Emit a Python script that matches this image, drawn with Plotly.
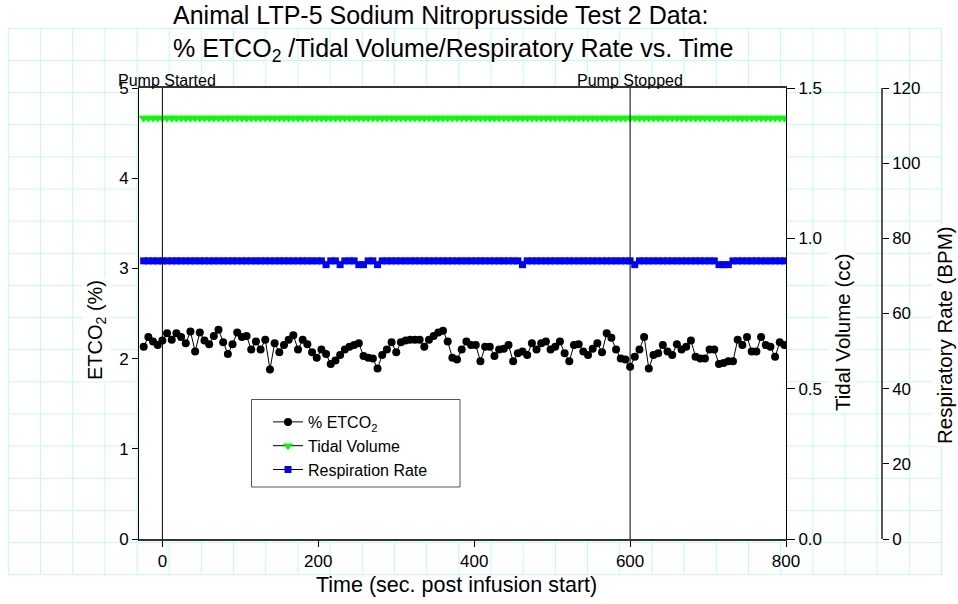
import plotly.graph_objects as go

# ---------------- data ----------------
time_s = [
    -24, -18, -12, -6, 0, 6, 12, 18, 24, 30,
    36, 42, 48, 54, 60, 66, 72, 78, 84, 90,
    96, 102, 108, 114, 120, 126, 132, 138, 144, 150,
    156, 162, 168, 174, 180, 186, 192, 198, 204, 210,
    216, 222, 228, 234, 240, 246, 252, 258, 264, 270,
    276, 282, 288, 294, 300, 306, 312, 318, 324, 330,
    336, 342, 348, 354, 360, 366, 372, 378, 384, 390,
    396, 402, 408, 414, 420, 426, 432, 438, 444, 450,
    456, 462, 468, 474, 480, 486, 492, 498, 504, 510,
    516, 522, 528, 534, 540, 546, 552, 558, 564, 570,
    576, 582, 588, 594, 600, 606, 612, 618, 624, 630,
    636, 642, 648, 654, 660, 666, 672, 678, 684, 690,
    696, 702, 708, 714, 720, 726, 732, 738, 744, 750,
    756, 762, 768, 774, 780, 786, 792, 798,
]

etco2_pct = [
    2.13, 2.24, 2.19, 2.15, 2.20, 2.28, 2.21, 2.28, 2.24, 2.17,
    2.30, 2.08, 2.29, 2.20, 2.16, 2.25, 2.32, 2.18, 2.05, 2.16,
    2.29, 2.24, 2.25, 2.10, 2.19, 2.10, 2.21, 1.88, 2.17, 2.07,
    2.15, 2.21, 2.26, 2.10, 2.21, 2.16, 2.07, 2.01, 2.10, 2.05,
    1.94, 1.98, 2.04, 2.10, 2.13, 2.15, 2.17, 2.03, 2.01, 2.00,
    1.89, 2.04, 2.10, 2.18, 2.07, 2.18, 2.20, 2.21, 2.21, 2.21,
    2.13, 2.21, 2.25, 2.29, 2.31, 2.19, 2.01, 1.99, 2.10, 2.19,
    2.15, 2.15, 1.97, 2.13, 2.13, 2.03, 2.10, 2.11, 2.15, 1.97,
    2.06, 2.08, 2.04, 2.17, 2.10, 2.17, 2.19, 2.10, 2.13, 2.19,
    2.06, 1.97, 2.15, 2.16, 2.08, 2.04, 2.11, 2.17, 2.07, 2.28,
    2.23, 2.10, 2.00, 1.99, 1.91, 2.02, 2.10, 2.24, 1.89, 2.04,
    2.06, 2.15, 2.08, 2.04, 2.16, 2.10, 2.13, 2.20, 2.02, 2.00,
    2.00, 2.10, 2.10, 1.94, 1.95, 1.97, 1.97, 2.21, 2.15, 2.24,
    2.08, 2.08, 2.24, 2.15, 2.13, 2.02, 2.18, 2.15,
]

tidal_volume_cc = [
    1.4, 1.4, 1.4, 1.4, 1.4, 1.4, 1.4, 1.4, 1.4, 1.4,
    1.4, 1.4, 1.4, 1.4, 1.4, 1.4, 1.4, 1.4, 1.4, 1.4,
    1.4, 1.4, 1.4, 1.4, 1.4, 1.4, 1.4, 1.4, 1.4, 1.4,
    1.4, 1.4, 1.4, 1.4, 1.4, 1.4, 1.4, 1.4, 1.4, 1.4,
    1.4, 1.4, 1.4, 1.4, 1.4, 1.4, 1.4, 1.4, 1.4, 1.4,
    1.4, 1.4, 1.4, 1.4, 1.4, 1.4, 1.4, 1.4, 1.4, 1.4,
    1.4, 1.4, 1.4, 1.4, 1.4, 1.4, 1.4, 1.4, 1.4, 1.4,
    1.4, 1.4, 1.4, 1.4, 1.4, 1.4, 1.4, 1.4, 1.4, 1.4,
    1.4, 1.4, 1.4, 1.4, 1.4, 1.4, 1.4, 1.4, 1.4, 1.4,
    1.4, 1.4, 1.4, 1.4, 1.4, 1.4, 1.4, 1.4, 1.4, 1.4,
    1.4, 1.4, 1.4, 1.4, 1.4, 1.4, 1.4, 1.4, 1.4, 1.4,
    1.4, 1.4, 1.4, 1.4, 1.4, 1.4, 1.4, 1.4, 1.4, 1.4,
    1.4, 1.4, 1.4, 1.4, 1.4, 1.4, 1.4, 1.4, 1.4, 1.4,
    1.4, 1.4, 1.4, 1.4, 1.4, 1.4, 1.4, 1.4,
]

resp_rate_bpm = [
    74, 74, 74, 74, 74, 74, 74, 74, 74, 74,
    74, 74, 74, 74, 74, 74, 74, 74, 74, 74,
    74, 74, 74, 74, 74, 74, 74, 74, 74, 74,
    74, 74, 74, 74, 74, 74, 74, 74, 74, 73,
    74, 74, 73, 74, 74, 74, 73, 73, 74, 74,
    73, 74, 74, 74, 74, 74, 74, 74, 74, 74,
    74, 74, 74, 74, 74, 74, 74, 74, 74, 74,
    74, 74, 74, 74, 74, 74, 74, 74, 74, 74,
    74, 73, 74, 74, 74, 74, 74, 74, 74, 74,
    74, 74, 74, 74, 74, 74, 74, 74, 74, 74,
    74, 74, 74, 74, 74, 73, 74, 74, 74, 74,
    74, 74, 74, 74, 74, 74, 74, 74, 74, 74,
    74, 74, 74, 73, 73, 73, 74, 74, 74, 74,
    74, 74, 74, 74, 74, 74, 74, 74,
]

event_times = [0, 600]
event_labels = ["Pump Started", "Pump Stopped"]

x_ticks = [0, 200, 400, 600, 800]
y1_ticks = [0, 1, 2, 3, 4, 5]
y2_ticks = [0.0, 0.5, 1.0, 1.5]
y3_ticks = [0, 20, 40, 60, 80, 100, 120]

# ---------------- layout geometry (pixels) ----------------
W, H = 958, 604
ML, MR, MT, MB = 139, 76, 88, 65
PW = W - ML - MR
PH = H - MT - MB


def px_x(px):
    return (px - ML) / PW


def px_y(py):
    return (H - MB - py) / PH


XDOM_END = px_x(786)
FONT = "Liberation Sans, Arial, Helvetica, sans-serif"

fig = go.Figure()

fig.add_trace(go.Scatter(
    x=time_s, y=etco2_pct, name="% ETCO<sub>2</sub>",
    mode="lines+markers",
    line=dict(color="black", width=1),
    marker=dict(symbol="circle", size=8, color="black"),
    yaxis="y",
))
fig.add_trace(go.Scatter(
    x=time_s, y=tidal_volume_cc, name="Tidal Volume",
    mode="lines+markers",
    line=dict(color="black", width=1),
    marker=dict(symbol="triangle-down", size=9, color="#00ff00", line=dict(width=0)),
    yaxis="y2",
))
fig.add_trace(go.Scatter(
    x=time_s, y=resp_rate_bpm, name="Respiration Rate",
    mode="lines+markers",
    line=dict(color="black", width=1),
    marker=dict(symbol="square", size=7, color="#0000ff", line=dict(width=0)),
    yaxis="y3",
))

shapes = []
# graph-paper background grid
GRID = "#c4f8f8"
gx0, gx1, gy0, gy1 = 8.3, 941.5, 28.3, 574.7
for k in range(30):
    gx = gx0 + 32.18 * k
    shapes.append(dict(type="line", xref="paper", yref="paper", layer="below",
                       x0=px_x(gx), x1=px_x(gx), y0=px_y(gy0), y1=px_y(gy1),
                       line=dict(color=GRID, width=1)))
for j in range(18):
    gy = gy0 + 32.14 * j
    shapes.append(dict(type="line", xref="paper", yref="paper", layer="below",
                       x0=px_x(gx0), x1=px_x(gx1), y0=px_y(gy), y1=px_y(gy),
                       line=dict(color=GRID, width=1)))
# white plotting area
shapes.append(dict(type="rect", xref="paper", yref="paper", layer="below",
                   x0=0, x1=XDOM_END, y0=0, y1=1,
                   fillcolor="white", line=dict(width=0)))
# event lines
for t in event_times:
    shapes.append(dict(type="line", xref="x", yref="paper", x0=t, x1=t, y0=0, y1=1,
                       line=dict(color="black", width=1)))
# legend frame
shapes.append(dict(type="rect", xref="paper", yref="paper", layer="above",
                   x0=px_x(251.5), x1=px_x(460), y0=px_y(487), y1=px_y(399.5),
                   fillcolor="white", line=dict(color="#555555", width=1)))

annotations = [
    dict(text="Animal LTP-5 Sodium Nitroprusside Test 2 Data:<br>% ETCO<sub>2</sub> /Tidal Volume/Respiratory Rate vs. Time",
         xref="paper", yref="paper", x=px_x(171), y=px_y(-1), xanchor="left", yanchor="top",
         align="left", showarrow=False, font=dict(size=25, color="black")),
    dict(text="Time (sec. post infusion start)", xref="paper", yref="paper",
         x=px_x(456), y=px_y(585), xanchor="center", yanchor="middle",
         showarrow=False, font=dict(size=21.5, color="black")),
    dict(text="ETCO<sub>2</sub> (%)", xref="paper", yref="paper", textangle=-90,
         x=px_x(96), y=px_y(330), xanchor="center", yanchor="middle", bgcolor="white",
         showarrow=False, font=dict(size=20, color="black")),
    dict(text="Tidal Volume (cc)", xref="paper", yref="paper", textangle=-90,
         x=px_x(842), y=px_y(332), xanchor="center", yanchor="middle", bgcolor="white",
         showarrow=False, font=dict(size=20.5, color="black")),
    dict(text="Respiratory Rate (BPM)", xref="paper", yref="paper", textangle=-90,
         x=px_x(944), y=px_y(335), xanchor="center", yanchor="middle", bgcolor="white",
         showarrow=False, font=dict(size=20.5, color="black")),
]
label_shift = [5, 0]
for t, lab, sh in zip(event_times, event_labels, label_shift):
    annotations.append(dict(text=lab, xref="x", yref="paper", x=t, y=1,
                            xanchor="center", yanchor="bottom", xshift=sh, yshift=-3,
                            showarrow=False, font=dict(size=16, color="black")))

axis_common = dict(showgrid=False, zeroline=False, ticks="outside", showline=True,
                   tickfont=dict(size=17, color="black"), tickcolor="black")

fig.update_layout(
    width=W, height=H,
    margin=dict(l=ML, r=MR, t=MT, b=MB, autoexpand=False),
    paper_bgcolor="white", plot_bgcolor="white",
    font=dict(family=FONT, color="black"),
    showlegend=True,
    legend=dict(x=px_x(268), y=px_y(405), xanchor="left", yanchor="top",
                bgcolor="rgba(0,0,0,0)", borderwidth=0,
                font=dict(size=16, color="black"), tracegroupgap=3),
    xaxis=dict(domain=[0, XDOM_END], range=[-30, 800], tickvals=x_ticks,
               ticklen=6, linecolor="#333333", linewidth=1.5, mirror=True,
               **axis_common),
    yaxis=dict(range=[0, 5], tickvals=y1_ticks, ticklen=6, linecolor="black",
               linewidth=1, **axis_common),
    yaxis2=dict(range=[0, 1.5], tickvals=y2_ticks, tickformat=".1f", ticklen=8,
                overlaying="y", side="right", anchor="x", linecolor="black",
                linewidth=1, **axis_common),
    yaxis3=dict(range=[0, 120], tickvals=y3_ticks, ticklen=6,
                overlaying="y", side="right", anchor="free", position=1,
                linecolor="#555555", linewidth=1.5, **axis_common),
    shapes=shapes,
    annotations=annotations,
)

fig.write_html("out.html",
               config={"displayModeBar": False},
               post_script="document.body.style.margin='0';document.body.style.padding='0';")
